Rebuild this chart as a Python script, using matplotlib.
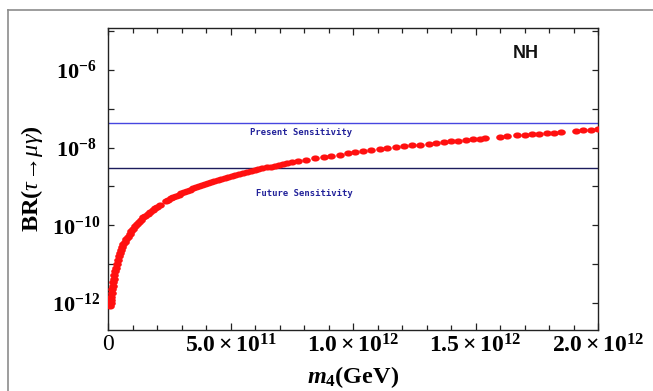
import numpy as np
import matplotlib
matplotlib.use("Agg")
import matplotlib.pyplot as plt
from matplotlib.lines import Line2D
from matplotlib.path import Path
from matplotlib.ticker import FixedLocator, FixedFormatter, MultipleLocator, NullLocator

plt.rcParams['mathtext.fontset'] = 'custom'
plt.rcParams['mathtext.rm'] = 'Liberation Serif:bold'
plt.rcParams['mathtext.it'] = 'Liberation Serif:bold:italic'
plt.rcParams['mathtext.bf'] = 'Liberation Serif:bold'
plt.rcParams['mathtext.sf'] = 'Liberation Serif:italic'
plt.rcParams['font.family'] = ['Liberation Serif', 'DejaVu Sans']

# m4 in units of 1e11 GeV
m4 = [0.10, 0.11, 0.12, 0.13, 0.15, 0.17, 0.19, 0.21, 0.23, 0.26, 0.29, 0.32,
      0.36, 0.40, 0.44, 0.48, 0.53, 0.58, 0.63, 0.69, 0.75, 0.81, 0.88, 0.95,
      1.02, 1.10, 1.18, 1.26, 1.35, 1.44, 1.53, 1.62, 1.72, 1.82, 1.92, 2.02,
      2.12, 2.36, 2.46, 2.56, 2.66, 2.77, 2.88, 2.99, 3.10, 3.22, 3.34, 3.46,
      3.58, 3.70, 3.82, 3.95, 4.08, 4.21, 4.34, 4.48, 4.62, 4.76, 4.90, 5.05,
      5.20, 5.35, 5.50, 5.66, 5.82, 5.98, 6.14, 6.30, 6.47, 6.64, 6.81, 6.98,
      7.15, 7.32, 7.50, 7.75, 8.10, 8.45, 8.80, 9.10, 9.45, 9.80, 10.1, 10.4,
      10.75, 11.1, 11.4, 11.75, 12.1, 12.4, 12.75, 13.1, 13.4, 13.7, 14.0, 14.3,
      14.6, 14.9, 15.2, 15.4, 16.0, 16.3, 16.7, 17.0, 17.3, 17.6, 17.9, 18.2,
      18.5, 19.1, 19.4, 19.7, 20.0, 20.2]
br = [8.5e-13, 1.0e-12, 1.2e-12, 1.4e-12, 1.8e-12, 2.3e-12, 2.8e-12, 3.4e-12,
      4.2e-12, 5.3e-12, 6.6e-12, 8.0e-12, 1.0e-11, 1.3e-11, 1.6e-11, 1.9e-11,
      2.3e-11, 2.7e-11, 3.2e-11, 3.8e-11, 4.4e-11, 5.1e-11, 6.0e-11, 7.0e-11,
      8.0e-11, 9.3e-11, 1.05e-10, 1.2e-10, 1.4e-10, 1.6e-10, 1.75e-10, 1.95e-10,
      2.2e-10, 2.45e-10, 2.75e-10, 3.0e-10, 3.3e-10, 4.1e-10, 4.5e-10, 4.9e-10,
      5.3e-10, 5.7e-10, 6.2e-10, 6.6e-10, 7.1e-10, 7.7e-10, 8.3e-10, 8.9e-10,
      9.5e-10, 1.0e-9, 1.08e-9, 1.15e-9, 1.23e-9, 1.31e-9, 1.4e-9, 1.49e-9,
      1.58e-9, 1.68e-9, 1.78e-9, 1.89e-9, 2.0e-9, 2.1e-9, 2.24e-9, 2.37e-9,
      2.5e-9, 2.65e-9, 2.8e-9, 2.94e-9, 3.1e-9, 3.26e-9, 3.43e-9, 3.6e-9,
      3.78e-9, 3.97e-9, 4.16e-9, 4.4e-9, 4.85e-9, 5.3e-9, 5.7e-9, 6.1e-9,
      6.6e-9, 7.1e-9, 7.5e-9, 8.0e-9, 8.5e-9, 9.1e-9, 9.6e-9, 1.02e-8,
      1.08e-8, 1.14e-8, 1.2e-8, 1.27e-8, 1.33e-8, 1.39e-8, 1.45e-8, 1.51e-8,
      1.58e-8, 1.64e-8, 1.71e-8, 1.76e-8, 1.89e-8, 1.97e-8, 2.06e-8, 2.14e-8,
      2.21e-8, 2.29e-8, 2.37e-8, 2.45e-8, 2.53e-8, 2.7e-8, 2.79e-8, 2.87e-8,
      2.96e-8, 3.0e-8]

present = 4.4e-8
future = 3.0e-9

xticks = [0, 5e11, 1e12, 1.5e12, 2e12]
xticklabels = ['0', r'$5.0\times10^{11}$', r'$1.0\times10^{12}$',
               r'$1.5\times10^{12}$', r'$2.0\times10^{12}$']
ydecades = [1e-13, 1e-12, 1e-11, 1e-10, 1e-9, 1e-8, 1e-7, 1e-6, 1e-5]
yticklabels = ['', r'$10^{-12}$', '', r'$10^{-10}$', '', r'$10^{-8}$', '',
               r'$10^{-6}$', '']

# slightly flattened dots, like the stretched original
t = np.linspace(0, 2 * np.pi, 41)
dot = Path(np.column_stack([1.4 * np.cos(t), np.sin(t)]), closed=True)

fig = plt.figure(figsize=(6.53, 3.91), dpi=100)
ax = fig.add_axes([0.1654, 0.156, 0.7504, 0.7724])

ax.plot(np.array(m4) * 1e11, br, linestyle='none', marker=dot, color='#ff1010',
        markersize=6.2, markeredgewidth=0, zorder=3)

ax.axhline(present, color='#4646e0', lw=1.0, zorder=2)
ax.axhline(future, color='#1c1c5c', lw=1.0, zorder=2)
ax.text(7.9e11, 2.43e-8, 'Present Sensitivity', family='DejaVu Sans Mono',
        fontsize=6.4, fontweight='bold', color='#22229a', ha='center', va='center')
ax.text(8.0e11, 6.5e-10, 'Future Sensitivity', family='DejaVu Sans Mono',
        fontsize=6.4, fontweight='bold', color='#22229a', ha='center', va='center')
ax.text(1.705e12, 2.6e-6, 'NH', family='Liberation Sans', fontsize=13,
        fontweight='bold', color='#111111', ha='center', va='center')

ax.set_yscale('log')
ax.set_xlim(0, 2.0e12)
ax.set_ylim(2.0e-13, 1.21e-5)

ax.xaxis.set_major_locator(FixedLocator(xticks))
ax.xaxis.set_major_formatter(FixedFormatter(xticklabels))
ax.xaxis.set_minor_locator(MultipleLocator(1e11))
ax.yaxis.set_major_locator(FixedLocator(ydecades))
ax.yaxis.set_major_formatter(FixedFormatter(yticklabels))
ax.yaxis.set_minor_locator(NullLocator())

ax.tick_params(axis='both', which='both', direction='in', top=True, right=True,
               color='#222222', width=0.9)
ax.tick_params(axis='x', which='major', length=5, labelsize=17, pad=3)
ax.tick_params(axis='x', which='minor', length=3.5)
ax.tick_params(axis='y', which='major', length=4, labelsize=16, pad=23)
for lab in ax.get_yticklabels():
    lab.set_ha('center')

for s in ax.spines.values():
    s.set_color('#222222')
    s.set_linewidth(1.0)

ax.set_xlabel(r'$m_4$(GeV)', fontsize=17.5, fontweight='bold', labelpad=5)
ax.set_ylabel(r'BR$(\mathsf{\tau}\!\rightarrow\!\mathsf{\mu\gamma})$',
              fontsize=17.5, fontweight='bold', labelpad=5)

# outer frame
fig.add_artist(Line2D([8 / 653, 1.0], [1 - 10 / 391, 1 - 10 / 391],
                      transform=fig.transFigure, color='#8c8c8c', lw=1.2))
fig.add_artist(Line2D([8 / 653, 8 / 653], [0.0, 1 - 10 / 391],
                      transform=fig.transFigure, color='#8c8c8c', lw=1.2))

fig.savefig('out.png', dpi=100)
